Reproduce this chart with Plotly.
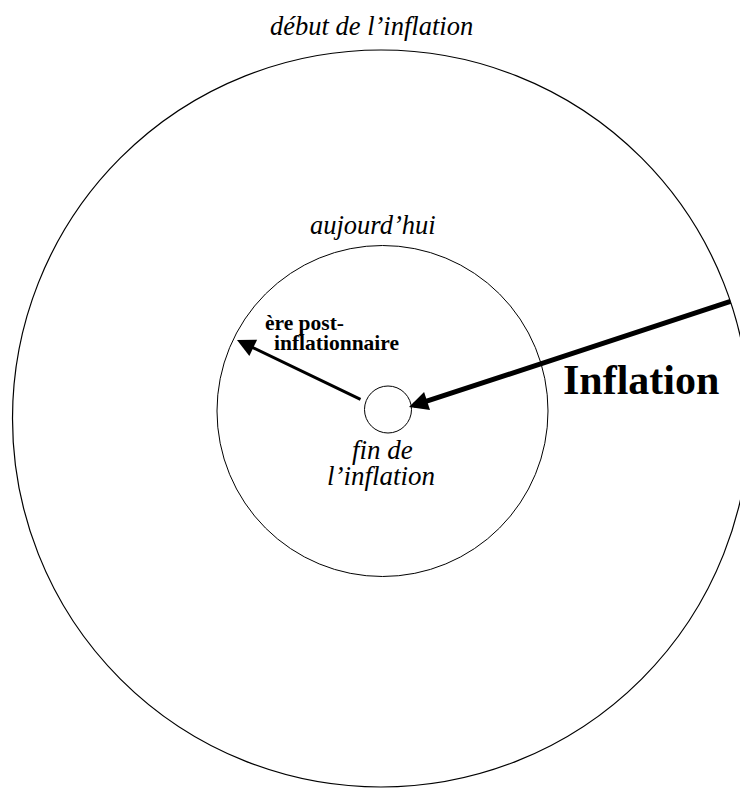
import plotly.graph_objects as go

# Circles: centre x, centre y, radius (pixel-like units, y downward)
circle_names = ["debut", "aujourdhui", "fin"]
circle_cx = [381, 382.5, 388]
circle_cy = [418.5, 411, 409.5]
circle_r = [368.5, 165.5, 23.5]
circle_lw = [1.2, 1.0, 1.0]

# Arrows: tail -> tip
arrow_names = ["post", "inflation"]
arrow_tail_x = [362, 732]
arrow_tail_y = [400, 301]
arrow_tip_x = [237, 409]
arrow_tip_y = [340, 407]
arrow_width = [3, 5]
arrow_size = [1.2, 0.76]

# Labels
label_text = ["début de l’inflation", "aujourd’hui", "ère post-", "inflationnaire",
              "fin de", "l’inflation", "Inflation"]
label_x = [371, 372.5, 263, 272, 382, 381, 641]
label_y = [25.5, 224.5, 323, 343, 450, 476, 380]
label_anchor = ["center", "center", "left", "left", "center", "center", "center"]
label_size = [26.5, 26.5, 21.5, 21.5, 27, 27, 42]
label_style = ["italic", "italic", "bold", "bold", "italic", "italic", "bold"]

W, H = 748, 788
OFF = 8  # page body margin

fig = go.Figure()
fig.add_trace(go.Scatter(x=[OFF, W + OFF], y=[OFF, H + OFF], mode="markers",
                         marker=dict(opacity=0), hoverinfo="skip", showlegend=False))

for cx, cy, r, lw in zip(circle_cx, circle_cy, circle_r, circle_lw):
    fig.add_shape(type="circle", xref="x", yref="y",
                  x0=cx - r, x1=cx + r, y0=cy - r, y1=cy + r,
                  line=dict(color="black", width=lw), fillcolor="rgba(0,0,0,0)")

for tx, ty, hx, hy, w, s in zip(arrow_tail_x, arrow_tail_y, arrow_tip_x, arrow_tip_y,
                                arrow_width, arrow_size):
    fig.add_annotation(x=hx, y=hy, ax=tx, ay=ty, xref="x", yref="y", axref="x", ayref="y",
                       text="", showarrow=True, arrowhead=2, arrowsize=s,
                       arrowwidth=w, arrowcolor="black", standoff=0, startstandoff=0)

for t, x, y, a, s, st in zip(label_text, label_x, label_y, label_anchor, label_size, label_style):
    fig.add_annotation(x=x, y=y, xref="x", yref="y", text=t, showarrow=False,
                       xanchor=a, yanchor="middle",
                       font=dict(family="Liberation Serif", size=s, color="black",
                                 style="italic" if st == "italic" else "normal",
                                 weight="bold" if st == "bold" else "normal"))

fig.update_xaxes(range=[OFF, W + OFF], visible=False, fixedrange=True)
fig.update_yaxes(range=[H + OFF, OFF], visible=False, fixedrange=True)
fig.update_layout(width=W, height=H, margin=dict(l=0, r=0, t=0, b=0),
                  plot_bgcolor="white", paper_bgcolor="white", showlegend=False)

fig.write_html("out.html")
